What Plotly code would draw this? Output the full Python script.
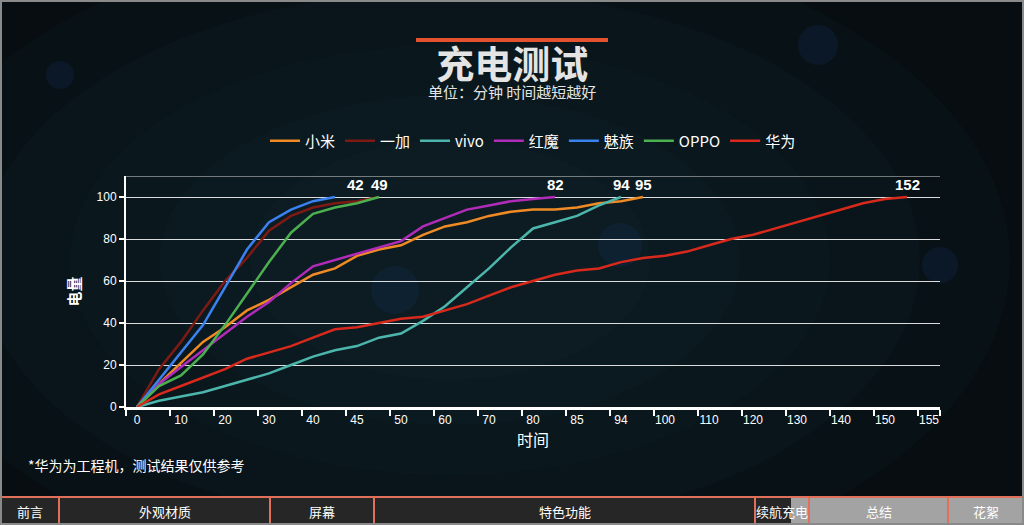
import plotly.graph_objects as go

# minute categories on the x axis (only every other one is labelled)
minutes = ["0", "5", "10", "15", "20", "25", "30", "35", "40", "42", "45", "49",
           "50", "55", "60", "65", "70", "75", "80", "82", "85", "90", "94", "95",
           "100", "105", "110", "115", "120", "125", "130", "135", "140", "145",
           "150", "152", "155"]

xiaomi = [0, 11, 21, 31, 38, 46, 51, 57, 63, 66, 72, 75, 77, 82, 86, 88, 91, 93,
          94, 94, 95, 97, 98, 100]
yijia = [0, 18, 31, 46, 60, 71, 84, 91, 95, 97, 98, 100]
vivo = [0, 3, 5, 7, 10, 13, 16, 20, 24, 27, 29, 33, 35, 41, 48, 57, 66, 76, 85,
        88, 91, 96, 100]
hongmo = [0, 11, 19, 27, 35, 43, 50, 59, 67, 70, 73, 76, 79, 86, 90, 94, 96, 98,
          99, 100]
meizu = [0, 13, 26, 39, 57, 75, 88, 94, 98, 100]
oppo = [0, 10, 15, 25, 39, 54, 69, 83, 92, 95, 97, 100]
huawei = [0, 6, 10, 14, 18, 23, 26, 29, 33, 37, 38, 40, 42, 43, 46, 49, 53, 57,
          60, 63, 65, 66, 69, 71, 72, 74, 77, 80, 82, 85, 88, 91, 94, 97, 99, 100]

names = ["小米", "一加", "vivo", "红魔", "魅族", "OPPO", "华为"]
series = [xiaomi, yijia, vivo, hongmo, meizu, oppo, huawei]
colors = ["#f08a24", "#7d1a14", "#4db6ac", "#b02cb8", "#3b82f0", "#4caf50", "#d9291c"]

tabs = ["前言", "外观材质", "屏幕", "特色功能", "续航充电", "总结", "花絮"]

W, H = 1024, 525
ML, MR, MT, MB = 126, 84, 176, 118
PW, PH = W - ML - MR, H - MT - MB


def px(x):
    return (x - ML) / PW


def py(y):
    return (H - MB - y) / PH


FONT = "Noto Sans CJK SC"
fig = go.Figure()

for name, vals, color in zip(names, series, colors):
    fig.add_trace(go.Scatter(x=minutes[:len(vals)], y=vals, mode="lines", name=name,
                             line=dict(color=color, width=2.5)))

shapes = []
annotations = []

# background glow
for rx, ry in [(560, 330), (470, 270), (380, 215), (290, 165), (200, 120)]:
    shapes.append(dict(type="circle", xref="paper", yref="paper", layer="below",
                       x0=px(450 - rx), x1=px(450 + rx), y0=py(260 + ry), y1=py(260 - ry),
                       fillcolor="#10272f", opacity=0.17, line=dict(width=0)))
for cx, cy, r in [(395, 290, 24), (818, 45, 20), (620, 245, 22), (60, 75, 14), (940, 265, 18)]:
    shapes.append(dict(type="circle", xref="paper", yref="paper", layer="below",
                       x0=px(cx - r), x1=px(cx + r), y0=py(cy + r), y1=py(cy - r),
                       fillcolor="#1d3d74", opacity=0.18, line=dict(width=0)))

# top gridline at the axis max
shapes.append(dict(type="line", xref="paper", yref="y", x0=0, x1=1, y0=110, y1=110,
                   line=dict(color="rgba(255,255,255,0.85)", width=1)))

# red bar above title
shapes.append(dict(type="line", xref="paper", yref="paper", x0=px(416), x1=px(608),
                   y0=py(40), y1=py(40), line=dict(color="#e4512f", width=4)))


def note(text, x, y, size, color="white", xanchor="center", yanchor="middle", family=FONT):
    annotations.append(dict(text=text, x=px(x), y=py(y), xref="paper", yref="paper",
                            xanchor=xanchor, yanchor=yanchor, showarrow=False,
                            font=dict(size=size, color=color, family=family)))


# title and subtitle as one text block
note("<span style='font-size:38px'><b>充电测试</b></span><br>单位：分钟 时间越短越好",
     512, 104, 15, "#e4e4e4", yanchor="bottom")
note("*华为为工程机，测试结果仅供参考", 26, 465, 14, xanchor="left")

# finish-time labels at the end of each line
label_shift = {"42": 20}
seen = set()
for vals in series:
    idx = len(vals) - 1
    end = minutes[idx]
    if end in seen:
        continue
    seen.add(end)
    annotations.append(dict(text="<b>%s</b>" % end, x=idx, y=vals[-1], xref="x", yref="y",
                            showarrow=False, yshift=13, xshift=label_shift.get(end, 0),
                            xanchor="center", yanchor="middle",
                            font=dict(size=15, color="white", family="Liberation Sans")))

# bottom navigation bar
edges = [0, 59, 270, 374, 755, 809, 948, 1024]
fills = ["#262626", "#262626", "#262626", "#262626", "#262626", "#a3a3a3", "#a3a3a3"]
bar_top, bar_bot = 497, 525
for i, tab in enumerate(tabs):
    shapes.append(dict(type="rect", xref="paper", yref="paper",
                       x0=px(edges[i]), x1=px(edges[i + 1]), y0=py(bar_bot), y1=py(bar_top),
                       fillcolor=fills[i], line=dict(color="#e0705a", width=2)))
shapes.append(dict(type="rect", xref="paper", yref="paper", x0=px(791), x1=px(808),
                   y0=py(bar_bot - 1), y1=py(bar_top + 1), fillcolor="#a3a3a3",
                   line=dict(width=0)))
for i, tab in enumerate(tabs):
    note(tab, (edges[i] + edges[i + 1]) / 2, 511, 13)

# outer frame
shapes.append(dict(type="rect", xref="paper", yref="paper", x0=px(1), x1=px(W - 1),
                   y0=py(H - 1), y1=py(1), line=dict(color="#8a8a8a", width=2)))

fig.update_layout(
    width=W, height=H,
    margin=dict(l=ML, r=MR, t=MT, b=MB),
    paper_bgcolor="#070d11",
    plot_bgcolor="rgba(0,0,0,0)",
    font=dict(family=FONT, color="white"),
    showlegend=True,
    legend=dict(orientation="h", x=0.5, xanchor="center", y=py(141), yanchor="middle",
                font=dict(size=15, color="white", family=FONT), itemwidth=30,
                bgcolor="rgba(0,0,0,0)", traceorder="normal"),
    shapes=shapes,
    annotations=annotations,
    xaxis=dict(type="category", categoryorder="array", categoryarray=minutes,
               range=[-0.5, 36.5], tickvals=minutes[::2], tickson="boundaries",
               tickangle=0, ticks="outside", ticklen=6, tickwidth=2, tickcolor="white",
               showline=True, linecolor="white", linewidth=3, showgrid=False,
               tickfont=dict(size=12, color="white", family="Liberation Sans"),
               title=dict(text="时间", font=dict(size=16, color="white", family=FONT),
                          standoff=8)),
    yaxis=dict(range=[0, 110], tickvals=[0, 20, 40, 60, 80, 100], showgrid=True,
               gridcolor="rgba(255,255,255,0.85)", gridwidth=1, zeroline=False,
               showline=True, linecolor="white", linewidth=2, ticks="outside",
               ticklen=5, tickwidth=2, tickcolor="white",
               tickfont=dict(size=12, color="white", family="Liberation Sans"),
               title=dict(text="<b>电量</b>", font=dict(size=15, color="white", family=FONT),
                          standoff=12)),
)

fig.write_html("out.html", config={"displayModeBar": False},
               post_script="document.body.style.margin='0';")
